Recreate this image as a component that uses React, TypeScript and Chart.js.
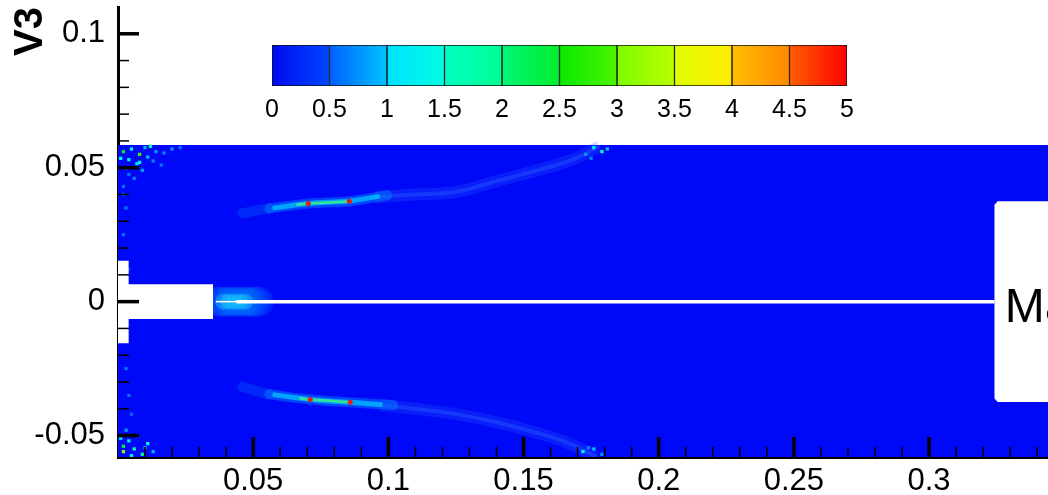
import React, { useEffect, useRef } from "react";
import { Chart, registerables } from "chart.js";

Chart.register(...registerables);

// ---------- axes ----------
const X_MIN = 0;
const X_MAX = 0.344;
const Y_MIN = -0.058;
const Y_MAX = 0.11;
const xMajorTicks = [0.05, 0.1, 0.15, 0.2, 0.25, 0.3];
const xTickLabels = ["0.05", "0.1", "0.15", "0.2", "0.25", "0.3"];
const yMajorTicks = [-0.05, 0, 0.05, 0.1];
const yTickLabels = ["-0.05", "0", "0.05", "0.1"];
const MINOR_STEP = 0.01;
const yAxisTitle = "V3";

// ---------- colour bar (contour levels) ----------
const levelLow = [0, 0.5, 1, 1.5, 2, 2.5, 3, 3.5, 4, 4.5];
const levelHigh = [0.5, 1, 1.5, 2, 2.5, 3, 3.5, 4, 4.5, 5];
const levelColorStart = [
  "rgb(0,10,240)", "rgb(0,95,255)", "rgb(0,225,255)", "rgb(0,255,195)", "rgb(0,245,120)",
  "rgb(10,232,0)", "rgb(125,250,0)", "rgb(225,255,0)", "rgb(255,190,0)", "rgb(255,95,0)",
];
const levelColorEnd = [
  "rgb(0,70,255)", "rgb(0,195,255)", "rgb(0,255,225)", "rgb(0,255,145)", "rgb(0,238,45)",
  "rgb(75,244,0)", "rgb(185,255,0)", "rgb(255,235,0)", "rgb(255,135,0)", "rgb(255,0,0)",
];
const colorbarTicks = [0, 0.5, 1, 1.5, 2, 2.5, 3, 3.5, 4, 4.5, 5];
const colorbarLabels = ["0", "0.5", "1", "1.5", "2", "2.5", "3", "3.5", "4", "4.5", "5"];

// ---------- flow domain ----------
const fieldX = [0, 0.344];
const fieldTop = [0.0585, 0.0585];
const fieldBottom = -0.058;

// nozzle body (left) and flange
const nozzleX = [0, 0.0352];
const nozzleTop = [0.0065, 0.0065];
const nozzleBottom = -0.0065;
const flangeX = [0, 0.004];
const flangeTop = [0.0153, 0.0153];
const flangeBottom = -0.0155;

// model body (right)
const bodyX = [0.3242, 0.3254, 0.36, 0.36, 0.3254, 0.3242];
const bodyY = [0.0362, 0.0375, 0.0375, -0.0375, -0.0375, -0.0362];
const bodyLabel = "Ma";
const bodyLabelX = 0.328;

// centre sting line
const stingTipX = [0.0362, 0.0445];
const stingTipY = [0.0, 0.0];
const stingX = [0.0438, 0.3242];
const stingY = [0.0, 0.0];

// jet glow at nozzle exit
const glowX = [0.037, 0.0385, 0.04, 0.0415, 0.043, 0.0445, 0.046, 0.0475, 0.049, 0.0505, 0.052];
const glowY = [0, 0, 0, 0, 0, 0, 0, 0, 0, 0, 0];
const glowCoreX = [0.039, 0.041, 0.043, 0.045, 0.047];
const glowCoreY = [0, 0, 0, 0, 0];

// upper shear layer
const upperShearX = [0.046, 0.056, 0.0704, 0.0856, 0.0996];
const upperShearY = [0.033, 0.0348, 0.0366, 0.0375, 0.0397];
const upperMidX = [0.058, 0.0704, 0.0856, 0.096];
const upperMidY = [0.035, 0.0366, 0.0376, 0.0392];
const upperCoreX = [0.066, 0.0704, 0.078, 0.0856];
const upperCoreY = [0.0362, 0.0366, 0.037, 0.0375];
const upperHotX = [0.0704, 0.0856];
const upperHotY = [0.0366, 0.0375];
const upperWakeX = [0.095, 0.11, 0.125, 0.14, 0.155, 0.168, 0.178];
const upperWakeY = [0.039, 0.04, 0.041, 0.045, 0.049, 0.053, 0.058];

// lower shear layer
const lowerShearX = [0.046, 0.056, 0.0711, 0.0859, 0.1018];
const lowerShearY = [-0.0318, -0.0345, -0.0365, -0.0376, -0.0386];
const lowerMidX = [0.058, 0.0711, 0.0859, 0.097];
const lowerMidY = [-0.0348, -0.0365, -0.0376, -0.0384];
const lowerCoreX = [0.067, 0.0711, 0.078, 0.0859];
const lowerCoreY = [-0.0361, -0.0365, -0.037, -0.0376];
const lowerHotX = [0.0711, 0.0859];
const lowerHotY = [-0.0365, -0.0376];
const lowerWakeX = [0.097, 0.11, 0.125, 0.14, 0.155, 0.167, 0.177];
const lowerWakeY = [-0.0387, -0.04, -0.042, -0.045, -0.049, -0.053, -0.058];

// noisy cells near the walls: x, y, value
const speckX = [
  0.002, 0.005, 0.008, 0.004, 0.011, 0.014, 0.003, 0.009, 0.006, 0.002, 0.016, 0.012, 0.02,
  0.001, 0.007, 0.01, 0.013, 0.017, 0.004, 0.008, 0.023,
  0.002, 0.006, 0.009, 0.004, 0.011, 0.003, 0.007, 0.013, 0.002, 0.005, 0.01, 0.001,
  0.176, 0.179, 0.181, 0.173, 0.175, 0.172, 0.176, 0.179, 0.174,
  0.003, 0.002, 0.004, 0.003, 0.004, 0.002, 0.005,
];
const speckY = [
  0.056, 0.057, 0.055, 0.053, 0.054, 0.056, 0.05, 0.049, 0.046, 0.043, 0.051, 0.058, 0.057,
  0.0535, 0.0515, 0.0575, 0.0525, 0.0555, 0.0475, 0.052, 0.0575,
  -0.056, -0.055, -0.057, -0.052, -0.053, -0.048, -0.05, -0.056, -0.054, -0.0575, -0.0545, -0.051,
  0.0575, 0.056, 0.057, 0.055, 0.0535, -0.056, -0.055, -0.057, -0.0545,
  0.035, 0.025, 0.012, -0.025, -0.035, 0.04, -0.042,
];
const speckV = [
  2.5, 1.5, 3, 1.2, 1, 0.8, 2, 0.8, 0.7, 0.6, 0.6, 1.8, 0.8,
  1.4, 1.1, 0.9, 0.7, 0.7, 0.6, 1.3, 0.6,
  3.2, 1.6, 2, 1.2, 1.4, 0.8, 1, 0.9, 2.4, 1.3, 0.8, 1.1,
  1.2, 1.6, 1, 0.8, 0.7, 1.4, 1, 0.8, 0.7,
  0.6, 0.6, 0.5, 0.6, 0.6, 0.55, 0.55,
];

// ---------- styles ----------
const FONT = '"Liberation Sans", Arial, sans-serif';
const FIELD_BLUE = "rgb(0,8,248)";

const pts = (xs: number[], ys: number[]) => xs.map((x, i) => ({ x, y: ys[i] }));

const parseRgb = (s: string) => s.match(/\d+/g)!.map(Number);
const colorAt = (v: number) => {
  let i = levelLow.findIndex((lo, k) => v >= lo && v <= levelHigh[k]);
  if (i < 0) i = v < 0 ? 0 : levelLow.length - 1;
  const t = (v - levelLow[i]) / (levelHigh[i] - levelLow[i]);
  const a = parseRgb(levelColorStart[i]);
  const b = parseRgb(levelColorEnd[i]);
  const c = a.map((av, k) => Math.round(av + (b[k] - av) * t));
  return `rgb(${c[0]},${c[1]},${c[2]})`;
};

const minorTicks = (lo: number, hi: number, step: number, skip: number[]) => {
  const out: number[] = [];
  for (let k = Math.ceil(lo / step - 1e-9); k * step <= hi + 1e-9; k++) {
    const v = +(k * step).toFixed(5);
    if (!skip.some((s) => Math.abs(s - v) < 1e-6)) out.push(v);
  }
  return out;
};

const zeroPadding = (s: any) => {
  s.paddingTop = 0;
  s.paddingBottom = 0;
  s.paddingLeft = 0;
  s.paddingRight = 0;
};

const tickPlugin = {
  id: "inwardTicks",
  afterDraw(chart: any) {
    const { ctx, chartArea, scales } = chart;
    const x = scales.x;
    const y = scales.y;
    ctx.save();
    ctx.strokeStyle = "#000";
    ctx.lineCap = "butt";
    const xMinor = minorTicks(MINOR_STEP, X_MAX, MINOR_STEP, xMajorTicks);
    const yMinor = minorTicks(-0.05, 0.1, MINOR_STEP, yMajorTicks);
    const drawX = (vals: number[], len: number, w: number) => {
      ctx.lineWidth = w;
      vals.forEach((v) => {
        const px = x.getPixelForValue(v);
        ctx.beginPath();
        ctx.moveTo(px, chartArea.bottom);
        ctx.lineTo(px, chartArea.bottom - len);
        ctx.stroke();
      });
    };
    const drawY = (vals: number[], len: number, w: number) => {
      ctx.lineWidth = w;
      vals.forEach((v) => {
        const py = y.getPixelForValue(v);
        ctx.beginPath();
        ctx.moveTo(chartArea.left, py);
        ctx.lineTo(chartArea.left + len, py);
        ctx.stroke();
      });
    };
    drawX(xMinor, 10, 1.5);
    drawX(xMajorTicks, 20, 3.5);
    drawY(yMinor, 11, 1.5);
    drawY(yMajorTicks, 21, 3.5);
    ctx.restore();
  },
};

const labelPlugin = {
  id: "bodyLabel",
  afterDatasetsDraw(chart: any) {
    const { ctx, scales } = chart;
    ctx.save();
    ctx.font = `48px ${FONT}`;
    ctx.fillStyle = "#000";
    ctx.textBaseline = "alphabetic";
    ctx.textAlign = "left";
    ctx.fillText(bodyLabel, scales.x.getPixelForValue(bodyLabelX), scales.y.getPixelForValue(0) + 20);
    ctx.restore();
  },
};

// halo colour fades in on the first segment of each shear layer
const haloSegment = {
  borderColor: (c: any) => (c.p0DataIndex === 0 ? "rgba(0,125,255,0.28)" : "rgba(0,125,255,0.5)"),
};

export default function App() {
  const mainRef = useRef<HTMLCanvasElement>(null);
  const barRef = useRef<HTMLCanvasElement>(null);

  useEffect(() => {
    const line = (data: any[], extra: any) => ({
      type: "line",
      data,
      pointRadius: 0,
      borderWidth: 0,
      fill: false,
      ...extra,
    });

    const datasets: any[] = [
      line(pts(fieldX, fieldTop), { order: 100, fill: { value: fieldBottom }, backgroundColor: FIELD_BLUE }),
      // faint wake bands
      line(pts(upperWakeX, upperWakeY), { order: 90, borderWidth: 12, borderColor: "rgba(40,110,255,0.22)", tension: 0.4 }),
      line(pts(upperWakeX, upperWakeY), { order: 89, borderWidth: 4, borderColor: "rgba(70,150,255,0.22)", tension: 0.4 }),
      line(pts(lowerWakeX, lowerWakeY), { order: 90, borderWidth: 12, borderColor: "rgba(40,110,255,0.22)", tension: 0.4 }),
      line(pts(lowerWakeX, lowerWakeY), { order: 89, borderWidth: 4, borderColor: "rgba(70,150,255,0.22)", tension: 0.4 }),
      // nozzle glow
      line(pts(glowX, glowY), { order: 80, showLine: false, pointRadius: 15, pointBorderWidth: 0, pointBackgroundColor: "rgba(0,135,255,0.2)" }),
      line(pts(glowCoreX, glowCoreY), { order: 79, showLine: false, pointRadius: 8, pointBorderWidth: 0, pointBackgroundColor: "rgba(30,210,255,0.38)" }),
      // upper shear layer
      line(pts(upperShearX, upperShearY), { order: 70, borderWidth: 10, borderColor: "rgba(0,125,255,0.5)", borderCapStyle: "round", tension: 0.4, segment: haloSegment }),
      line(pts(upperMidX, upperMidY), { order: 69, borderWidth: 5, borderColor: "rgba(0,205,255,0.7)", borderCapStyle: "round", tension: 0.4 }),
      line(pts(upperCoreX, upperCoreY), { order: 68, borderWidth: 2.5, borderColor: "rgba(60,235,140,0.9)", tension: 0.4 }),
      line(pts(upperHotX, upperHotY), { order: 67, showLine: false, pointRadius: 2.5, pointBorderWidth: 0, pointBackgroundColor: "rgb(225,30,20)" }),
      // lower shear layer
      line(pts(lowerShearX, lowerShearY), { order: 70, borderWidth: 10, borderColor: "rgba(0,125,255,0.5)", borderCapStyle: "round", tension: 0.4, segment: haloSegment }),
      line(pts(lowerMidX, lowerMidY), { order: 69, borderWidth: 5, borderColor: "rgba(0,205,255,0.7)", borderCapStyle: "round", tension: 0.4 }),
      line(pts(lowerCoreX, lowerCoreY), { order: 68, borderWidth: 2.5, borderColor: "rgba(60,235,140,0.9)", tension: 0.4 }),
      line(pts(lowerHotX, lowerHotY), { order: 67, showLine: false, pointRadius: 2.5, pointBorderWidth: 0, pointBackgroundColor: "rgb(225,30,20)" }),
      // speckles
      line(pts(speckX, speckY), {
        order: 60,
        showLine: false,
        pointRadius: 2.3,
        pointStyle: "rect",
        pointBorderWidth: 0,
        pointBackgroundColor: speckV.map(colorAt),
      }),
      // solid bodies (blanked)
      line(pts(nozzleX, nozzleTop), { order: 10, fill: { value: nozzleBottom }, backgroundColor: "#fff" }),
      line(pts(flangeX, flangeTop), { order: 10, fill: { value: flangeBottom }, backgroundColor: "#fff" }),
      line(pts(bodyX, bodyY), { order: 10, fill: "shape", backgroundColor: "#fff" }),
      line(pts(stingTipX, stingTipY), { order: 5, borderWidth: 1.5, borderColor: "#fff" }),
      line(pts(stingX, stingY), { order: 5, borderWidth: 3.5, borderColor: "#fff" }),
    ];

    const main = new Chart(mainRef.current!, {
      type: "line",
      data: { datasets },
      options: {
        animation: false,
        responsive: false,
        maintainAspectRatio: false,
        events: [],
        layout: { autoPadding: false, padding: { top: 7, left: 0, right: 0, bottom: 0 } },
        plugins: { legend: { display: false }, tooltip: { enabled: false } },
        scales: {
          x: {
            type: "linear",
            min: X_MIN,
            max: X_MAX,
            z: 1,
            afterBuildTicks: (s: any) => {
              s.ticks = xMajorTicks.map((v) => ({ value: v }));
            },
            afterFit: (s: any) => {
              s.height = 38;
              zeroPadding(s);
            },
            grid: { display: false, drawTicks: false },
            border: { display: true, color: "#000", width: 3 },
            ticks: {
              padding: 6,
              autoSkip: false,
              maxRotation: 0,
              color: "#000",
              font: { family: FONT, size: 31 },
              callback: (_v: any, i: number) => xTickLabels[i],
            },
          },
          y: {
            type: "linear",
            min: Y_MIN,
            max: Y_MAX,
            z: 1,
            afterBuildTicks: (s: any) => {
              s.ticks = yMajorTicks.map((v) => ({ value: v }));
            },
            afterFit: (s: any) => {
              s.width = 118;
              zeroPadding(s);
            },
            grid: { display: false, drawTicks: false },
            border: { display: true, color: "#000", width: 3 },
            ticks: {
              padding: 13,
              autoSkip: false,
              color: "#000",
              font: { family: FONT, size: 31 },
              callback: (_v: any, i: number) => yTickLabels[i],
            },
            title: {
              display: true,
              text: yAxisTitle,
              align: "end",
              color: "#000",
              font: { family: FONT, size: 40, weight: "bold" },
              padding: { top: 7, bottom: 0 },
            },
          },
        },
      } as any,
      plugins: [labelPlugin, tickPlugin],
    });

    const bar = new Chart(barRef.current!, {
      type: "bar",
      data: {
        labels: [""],
        datasets: levelLow.map((lo, i) => ({
          data: [[lo, levelHigh[i]]],
          grouped: false,
          barPercentage: 1,
          categoryPercentage: 1,
          borderColor: "#111",
          borderWidth: 1,
          borderSkipped: false,
          backgroundColor: (c: any) => {
            const ch = c.chart;
            const xs = ch.scales && ch.scales.x;
            if (!xs || !ch.chartArea) return levelColorStart[i];
            const g = ch.ctx.createLinearGradient(xs.getPixelForValue(lo), 0, xs.getPixelForValue(levelHigh[i]), 0);
            g.addColorStop(0, levelColorStart[i]);
            g.addColorStop(1, levelColorEnd[i]);
            return g;
          },
        })),
      },
      options: {
        indexAxis: "y",
        animation: false,
        responsive: false,
        maintainAspectRatio: false,
        events: [],
        layout: { autoPadding: false, padding: { left: 272, right: 201, top: 45, bottom: 0 } },
        plugins: { legend: { display: false }, tooltip: { enabled: false } },
        scales: {
          x: {
            type: "linear",
            min: 0,
            max: 5,
            afterBuildTicks: (s: any) => {
              s.ticks = colorbarTicks.map((v) => ({ value: v }));
            },
            afterFit: (s: any) => {
              s.height = 54;
              zeroPadding(s);
            },
            grid: { display: false, drawTicks: false },
            border: { display: false },
            ticks: {
              padding: 9,
              autoSkip: false,
              maxRotation: 0,
              color: "#000",
              font: { family: FONT, size: 25 },
              callback: (_v: any, i: number) => colorbarLabels[i],
            },
          },
          y: { display: false },
        },
      } as any,
    });

    return () => {
      main.destroy();
      bar.destroy();
    };
  }, []);

  return (
    <div
      style={{
        position: "fixed",
        left: 0,
        top: 0,
        width: 1048,
        height: 495,
        background: "#fff",
        overflow: "hidden",
      }}
    >
      <canvas ref={mainRef} width={1048} height={495} style={{ position: "absolute", left: 0, top: 0, width: 1048, height: 495 }} />
      <canvas ref={barRef} width={1048} height={140} style={{ position: "absolute", left: 0, top: 0, width: 1048, height: 140 }} />
    </div>
  );
}
